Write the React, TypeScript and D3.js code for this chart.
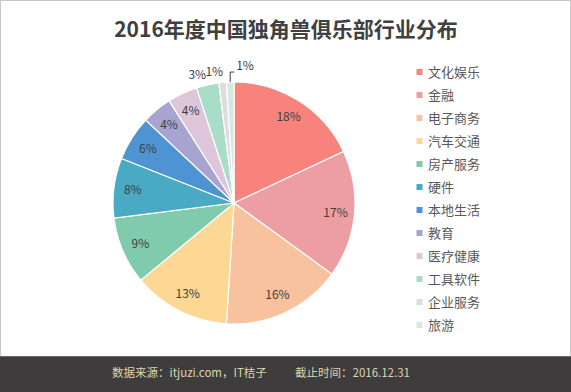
import React, { useEffect, useRef } from 'react';
import * as d3 from 'd3';

const categories = ['文化娱乐', '金融', '电子商务', '汽车交通', '房产服务', '硬件', '本地生活', '教育', '医疗健康', '工具软件', '企业服务', '旅游'];
const shares = [18, 17, 16, 13, 9, 8, 6, 4, 4, 3, 1, 1];
const colors = ['#f8837d', '#ec9ea2', '#f8c29e', '#fcd894', '#80caae', '#4aaac4', '#4e94d3', '#a8a4d2', '#dec6da', '#a9ddc8', '#dddddd', '#d7e8e0'];
const title = '2016年度中国独角兽俱乐部行业分布';
const sourceText = '数据来源：itjuzi.com，IT桔子';
const dateText = '截止时间：2016.12.31';

const W = 571, H = 392;
const FONT = '"Noto Sans CJK SC", "Noto Sans", sans-serif';

export default function App() {
  const ref = useRef<SVGSVGElement>(null);

  useEffect(() => {
    const svg = d3.select(ref.current);
    svg.selectAll('*').remove();

    // background + frame
    svg.append('rect').attr('width', W).attr('height', H).attr('fill', '#fff');
    svg.append('rect').attr('x', 0.5).attr('y', 0.5).attr('width', W - 1).attr('height', H - 1)
      .attr('fill', 'none').attr('stroke', '#c8c8c8');

    svg.append('text')
      .attr('x', 286).attr('y', 37)
      .attr('text-anchor', 'middle')
      .attr('font-size', 21).attr('font-weight', 'bold')
      .attr('fill', '#404040')
      .text(title);

    const cx = 234, cy = 203, radius = 121;
    const data = categories.map((c, i) => ({ name: c, value: shares[i], color: colors[i] }));

    const pie = d3.pie<any>().sort(null).value(d => d.value);
    const arc = d3.arc<any>().innerRadius(0).outerRadius(radius);
    const labelArc = d3.arc<any>().innerRadius(102).outerRadius(102);
    const outerArc = d3.arc<any>().innerRadius(radius + 16).outerRadius(radius + 16);

    const g = svg.append('g').attr('transform', 'translate(' + cx + ',' + cy + ')');
    const arcs = pie(data);

    g.selectAll('path.slice')
      .data(arcs)
      .enter().append('path')
      .attr('class', 'slice')
      .attr('d', arc)
      .attr('fill', d => d.data.color)
      .attr('stroke', '#fff')
      .attr('stroke-width', 1.2);

    arcs.forEach((d, i) => {
      const small = d.data.value <= 3;
      if (!small) {
        const [x, y] = labelArc.centroid(d);
        g.append('text')
          .attr('x', x).attr('y', y)
          .attr('dy', '0.35em')
          .attr('text-anchor', 'middle')
          .attr('font-size', 12).attr('fill', '#404040')
          .text(d.data.value + '%');
      } else if (i < arcs.length - 1) {
        const [x, y] = outerArc.centroid(d);
        g.append('text')
          .attr('x', x + 2).attr('y', y + 5)
          .attr('dy', '0.35em')
          .attr('text-anchor', 'end')
          .attr('font-size', 12).attr('fill', '#404040')
          .text(d.data.value + '%');
      } else {
        // last slice: leader line to label on the right
        const mid = (d.startAngle + d.endAngle) / 2;
        const x0 = Math.sin(mid) * radius, y0 = -Math.cos(mid) * radius;
        const y1 = y0 - 10;
        g.append('polyline')
          .attr('points', [[x0, y0], [x0, y1], [x0 + 4, y1]].map(p => p.join(',')).join(' '))
          .attr('fill', 'none').attr('stroke', '#404040').attr('stroke-width', 1);
        g.append('text')
          .attr('x', x0 + 6).attr('y', y1 - 6)
          .attr('dy', '0.35em')
          .attr('font-size', 12).attr('fill', '#404040')
          .text(d.data.value + '%');
      }
    });

    // legend
    const legendY = d3.scalePoint<string>().domain(categories).range([72, 325]);
    const lg = svg.append('g');
    categories.forEach((c, i) => {
      const y = legendY(c) as number;
      lg.append('rect')
        .attr('x', 416.5).attr('y', y - 3)
        .attr('width', 6).attr('height', 6)
        .attr('fill', colors[i]);
      lg.append('text')
        .attr('x', 428).attr('y', y)
        .attr('dy', '0.35em')
        .attr('font-size', 13).attr('fill', '#595959')
        .text(c);
    });

    // footer band
    svg.append('rect').attr('x', 0).attr('y', 356).attr('width', W).attr('height', H - 356).attr('fill', '#3e3c3d');
    svg.append('line').attr('x1', 0).attr('x2', W).attr('y1', 356.5).attr('y2', 356.5).attr('stroke', '#6a6868');
    svg.append('text')
      .attr('x', 112).attr('y', 373).attr('dy', '0.35em')
      .attr('font-size', 11.5).attr('fill', '#ddd5ae')
      .text(sourceText);
    svg.append('text')
      .attr('x', 295).attr('y', 373).attr('dy', '0.35em')
      .attr('font-size', 11.5).attr('fill', '#ddd5ae')
      .text(dateText);
  }, []);

  return (
    <svg ref={ref} width={W} height={H}
      style={{ position: 'absolute', left: 0, top: 0, fontFamily: FONT }} />
  );
}
